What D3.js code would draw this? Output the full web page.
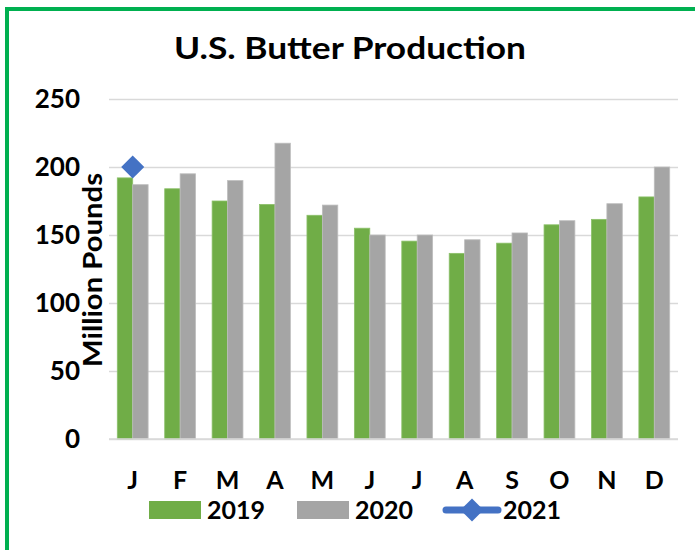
<!DOCTYPE html>
<html>
<head>
<meta charset="utf-8">
<script src="https://cdn.jsdelivr.net/npm/d3@7"></script>
<style>
  html, body { margin: 0; padding: 0; background: #fff; }
  svg { display: block; }
  text { font-family: Lato, Carlito, "Open Sans", sans-serif; font-weight: 700; fill: #000; }
</style>
</head>
<body>
<svg id="chart" width="695" height="550"></svg>
<script>
const months = ["J","F","M","A","M","J","J","A","S","O","N","D"];
const values2019 = [192, 184, 175, 172.5, 164.5, 155, 145.5, 136.5, 144, 157.5, 161.5, 178];
const values2020 = [187, 195, 190, 217.5, 172, 150, 150, 146.5, 151.5, 160.5, 173, 200];
const values2021 = [200];
const yTicks = [0, 50, 100, 150, 200, 250];
const seriesNames = ["2019", "2020", "2021"];
const colors = { "2019": "#70ad47", "2020": "#a5a5a5", "2021": "#4472c4" };

const svg = d3.select("#chart");

// outer frame (left and top edges visible)
svg.append("path")
  .attr("d", "M7,552 L7,9 L697,9")
  .attr("fill", "none")
  .attr("stroke", "#00b050")
  .attr("stroke-width", 4);

const plot = { left: 109, right: 678, top: 99, bottom: 439 };

const x = d3.scaleBand()
  .domain(d3.range(months.length))
  .range([plot.left, plot.right])
  .paddingInner(0.35)
  .paddingOuter(0.175);

const xSub = d3.scaleBand()
  .domain(["2019", "2020"])
  .range([0, x.bandwidth()]);

const y = d3.scaleLinear().domain([0, 250]).range([plot.bottom, plot.top]);

// gridlines + y labels via axis
const yAxis = d3.axisLeft(y)
  .tickValues(yTicks)
  .tickSize(-(plot.right - plot.left))
  .tickPadding(29)
  .tickFormat(d3.format("d"));

const gy = svg.append("g")
  .attr("transform", `translate(${plot.left},0)`)
  .call(yAxis);
gy.select(".domain").remove();
gy.selectAll(".tick line").attr("stroke", "#d9d9d9").attr("stroke-width", 1.5);
gy.selectAll(".tick text")
  .attr("font-size", 26)
  .attr("font-family", "Lato, Carlito, sans-serif")
  .attr("font-weight", 700)
  .attr("fill", "#000");

// bars
const groups = svg.append("g").selectAll("g")
  .data(months.map((m, i) => ({ i, v2019: values2019[i], v2020: values2020[i] })))
  .join("g")
  .attr("transform", d => `translate(${x(d.i)},0)`);

groups.selectAll("rect")
  .data(d => [{ s: "2019", v: d.v2019 }, { s: "2020", v: d.v2020 }])
  .join("rect")
  .attr("x", d => xSub(d.s))
  .attr("width", xSub.bandwidth())
  .attr("y", d => y(d.v))
  .attr("height", d => y(0) - y(d.v))
  .attr("fill", d => colors[d.s])
  .attr("stroke", d => d.s === "2019" ? "#8cc06a" : "#bdbdbd")
  .attr("stroke-width", 0.8);

// baseline redraw on top
svg.append("line")
  .attr("x1", plot.left).attr("x2", plot.right)
  .attr("y1", y(0)).attr("y2", y(0))
  .attr("stroke", "#d9d9d9").attr("stroke-width", 1.5);

// 2021 series (line with diamond markers)
const line2021 = d3.line()
  .x((d, i) => x(i) + x.bandwidth() / 2)
  .y(d => y(d));
svg.append("path")
  .datum(values2021)
  .attr("d", line2021)
  .attr("fill", "none")
  .attr("stroke", colors["2021"])
  .attr("stroke-width", 5);
const diamond = d3.symbol().type(d3.symbolDiamond2).size(340);
svg.append("g").selectAll("path")
  .data(values2021)
  .join("path")
  .attr("d", diamond)
  .attr("transform", (d, i) => `translate(${x(i) + x.bandwidth() / 2},${y(d)})`)
  .attr("fill", colors["2021"]);

// x labels
svg.append("g").selectAll("text")
  .data(months)
  .join("text")
  .attr("x", (d, i) => x(i) + x.bandwidth() / 2)
  .attr("y", 480)
  .attr("dy", "0.35em")
  .attr("text-anchor", "middle")
  .attr("font-size", 25)
  .text(d => d);

// title
svg.append("text")
  .attr("x", 350)
  .attr("y", 59)
  .attr("text-anchor", "middle")
  .attr("font-size", 30)
  .attr("textLength", 352)
  .attr("lengthAdjust", "spacingAndGlyphs")
  .text("U.S. Butter Production");

// y axis title
svg.append("text")
  .attr("transform", "translate(102,270) rotate(-90)")
  .attr("text-anchor", "middle")
  .attr("font-size", 27)
  .attr("textLength", 194)
  .attr("lengthAdjust", "spacingAndGlyphs")
  .text("Million Pounds");

// legend
const legend = svg.append("g");
const legY = 510;
const legItems = [
  { s: "2019", type: "rect", x0: 149, tx: 207 },
  { s: "2020", type: "rect", x0: 297, tx: 355 },
  { s: "2021", type: "line", x0: 443, tx: 503 }
];
legItems.forEach(it => {
  if (it.type === "rect") {
    legend.append("rect")
      .attr("x", it.x0).attr("y", legY - 9)
      .attr("width", 52).attr("height", 18)
      .attr("fill", colors[it.s]);
  } else {
    legend.append("line")
      .attr("x1", it.x0 + 3).attr("x2", it.x0 + 55)
      .attr("y1", legY).attr("y2", legY)
      .attr("stroke", colors[it.s]).attr("stroke-width", 7)
      .attr("stroke-linecap", "round");
    legend.append("path")
      .attr("d", diamond)
      .attr("transform", `translate(${it.x0 + 29},${legY})`)
      .attr("fill", colors[it.s]);
  }
  legend.append("text")
    .attr("x", it.tx).attr("y", legY)
    .attr("dy", "0.35em")
    .attr("font-size", 25)
    .text(it.s);
});
</script>
</body>
</html>
